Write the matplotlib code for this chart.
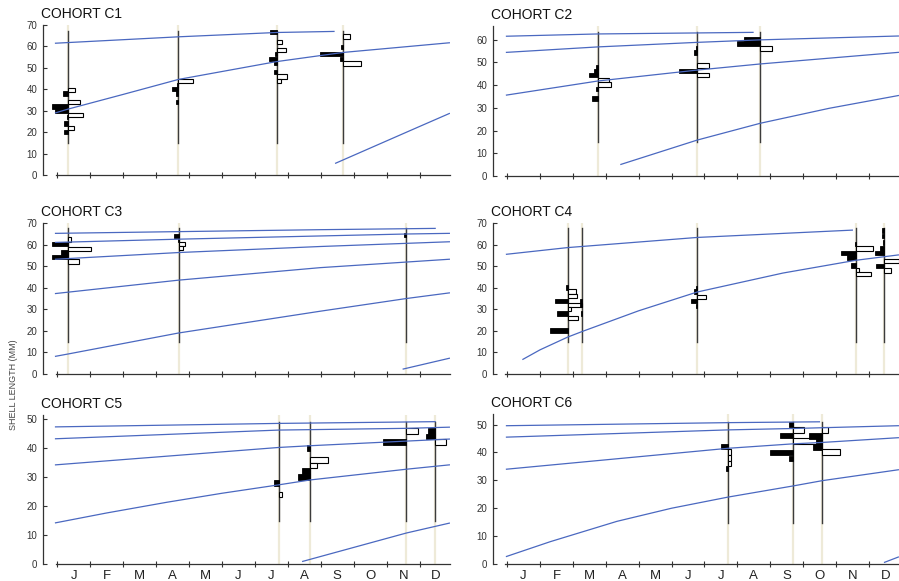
import matplotlib
matplotlib.use("Agg")
from matplotlib import pyplot as plt

plt.rcParams['font.family'] = ['Liberation Sans', 'DejaVu Sans']

MONTHS = ["J", "F", "M", "A", "M", "J", "J", "A", "S", "O", "N", "D"]

# ---- cohort C1 ----
c1_curve_x = [[-0.05, 3.7, 6.65, 8.4],
              [-0.05, 0.34, 2.0, 3.68, 6.65, 8.68, 11.9],
              [8.45, 9.4, 10.9, 11.9]]
c1_curve_y = [[61.5, 64.5, 66.5, 67.0],
              [29.0, 30.8, 37.6, 44.6, 52.9, 57.2, 61.7],
              [5.5, 11.9, 22.0, 28.7]]
c1_dates = [0.34, 3.68, 6.68, 8.67]
c1_black = [[(38, 5), (32, 16), (30, 13), (27, 1.5), (24, 4), (20, 4)],
            [(42, 1.5), (40, 6.7), (38, 2), (34, 2)],
            [(66.6, 7.7), (56.3, 2.7), (54.1, 8), (52.2, 3.7), (48.2, 3.3)],
            [(59.8, 1.5), (56.4, 22.7), (54.1, 3.3)]]
c1_white = [[(39.8, 7), (34, 11.7), (28, 15), (22, 5.7)],
            [(44, 15)],
            [(62.2, 5), (58.3, 9), (46, 9.7), (44, 4)],
            [(64.6, 7.3), (52, 18)]]

# ---- cohort C2 ----
c2_curve_x = [[-0.02, 2.76, 7.48],
              [-0.02, 2.76, 5.78, 7.7, 11.9],
              [-0.02, 2.76, 5.78, 7.7, 11.9],
              [3.46, 5.78, 7.7, 9.8, 11.9]]
c2_curve_y = [[61.5, 62.5, 63.2],
              [54.4, 56.8, 58.8, 59.9, 61.6],
              [35.6, 41.8, 46.6, 49.3, 54.4],
              [5.1, 15.8, 23.2, 29.8, 35.4]]
c2_dates = [2.76, 5.78, 7.7]
c2_black = [[(48, 1.5), (46, 3.7), (44.4, 9.3), (38.2, 1.5), (34.2, 6)],
            [(56.2, 1), (54.4, 3), (46.3, 18)],
            [(60.2, 16), (58.2, 23)]]
c2_white = [[(42.3, 10.7), (40.2, 13)],
            [(48.5, 12), (44.4, 12)],
            [(56.2, 12)]]

# ---- cohort C3 ----
c3_curve_x = [[-0.05, 3.68, 7.98, 11.47],
              [-0.05, 3.68, 10.6, 11.9],
              [-0.05, 3.68, 7.98, 11.9],
              [-0.05, 3.68, 7.98, 10.6, 11.9],
              [-0.05, 0.34, 3.68, 7.98, 10.6, 11.9],
              [10.5, 11.9]]
c3_curve_y = [[65.2, 66.0, 66.9, 67.5],
              [61.0, 62.5, 64.9, 65.2],
              [53.2, 56.3, 59.1, 61.3],
              [37.3, 43.5, 49.3, 51.9, 53.2],
              [8.2, 9.3, 19.0, 29.1, 35.0, 37.6],
              [2.3, 7.3]]
c3_dates = [0.34, 3.7, 10.6]
c3_black = [[(60.2, 16), (56.3, 7.7), (54.2, 16)],
            [(64, 5), (62, 1.5)],
            [(64.5, 2)]]
c3_white = [[(62.3, 2.7), (58.1, 22.7), (52.2, 11)],
            [(60.4, 6), (58.3, 4)],
            []]

# ---- cohort C4 ----
c4_curve_x = [[-0.02, 1.84, 5.78, 10.5],
              [0.48, 1.0, 1.84, 2.3, 4.0, 5.78, 8.39, 10.6, 11.9]]
c4_curve_y = [[55.5, 58.6, 63.3, 66.7],
              [6.8, 11.2, 17.1, 19.8, 29.3, 38.0, 46.8, 52.7, 55.2]]
c4_dates = [1.84, 2.29, 5.78, 10.6, 11.46]
c4_black = [[(40.1, 1.7), (34, 12.3), (28.1, 10.7), (20.1, 17.3)],
            [(34, 2.3), (32, 2.3), (28, 1)],
            [(40, 1), (38.2, 3), (33.7, 6), (31.5, 1)],
            [(60.4, 1), (56.2, 15), (54, 8.7), (50.3, 4.3)],
            [(66.5, 2), (64, 1.5), (61, 1), (58.2, 4.3), (56, 9.3), (50, 7.7)]]
c4_white = [[(38.2, 8.3), (36.3, 9.3), (32, 14.3), (30.1, 3.7), (26, 10)],
            [],
            [(35.8, 9)],
            [(58.2, 17), (48.2, 3.3), (46.2, 15.7)],
            [(52.4, 15), (48, 7.3)]]

# ---- cohort C5 ----
c5_curve_x = [[-0.05, 6.72, 11.47],
              [-0.05, 6.72, 10.6, 11.9],
              [-0.05, 6.72, 7.68, 10.6, 11.9],
              [-0.05, 1.5, 3.33, 5.0, 6.72, 7.68, 10.6, 11.9],
              [7.45, 10.6, 11.9]]
c5_curve_y = [[47.3, 48.5, 49.1],
              [43.2, 46.2, 46.8, 47.2],
              [34.2, 40.2, 40.8, 42.4, 43.1],
              [14.2, 17.6, 21.3, 24.4, 27.3, 29.0, 32.7, 34.2],
              [0.9, 10.7, 14.1]]
c5_dates = [6.72, 7.68, 10.6, 11.45]
c5_black = [[(28, 4.3)],
            [(40, 3.3), (32, 8.3), (30, 12.3)],
            [(42, 23)],
            [(46, 6.7), (44, 8.3)]]
c5_white = [[(24, 3.3)],
            [(36, 17.7), (34, 6.7)],
            [(46, 11.3)],
            [(42, 11.7)]]

# ---- cohort C6 ----
c6_curve_x = [[-0.02, 6.72, 9.5],
              [-0.02, 6.72, 8.7, 11.9],
              [-0.02, 6.72, 8.7, 9.59, 11.9],
              [-0.02, 1.31, 3.34, 5.0, 6.72, 8.7, 9.59, 11.9],
              [11.48, 11.9]]
c6_curve_y = [[49.6, 50.7, 51.0],
              [45.5, 48.1, 48.6, 49.6],
              [34.0, 41.5, 43.1, 43.6, 45.3],
              [2.7, 8.0, 15.3, 20.0, 24.0, 28.0, 29.9, 33.8],
              [0.6, 2.5]]
c6_dates = [6.72, 8.7, 9.59]
c6_black = [[(42.2, 6.7), (34.2, 1.7)],
            [(50, 4), (46.1, 12.7), (40, 22.7), (37.9, 4)],
            [(46, 13.3), (44, 6), (42, 9.3)]]
c6_white = [[(40.1, 2.7), (38.1, 3.3), (36.1, 2.7)],
            [(48.1, 10.7), (44.1, 25)],
            [(48.1, 5.7), (40.1, 18)]]

W, H = 899, 581
HIST_SCALE = 1 / 32.95   # bar length units -> months
BLUE = '#4a68c0'


def draw_panel(rect, title, cx, cy, dates, black, white, ylim, yticks, line_top, months):
    left, top, right, bottom = rect
    ax = fig.add_axes([left / W, 1 - bottom / H, (right - left) / W, (bottom - top) / H])
    ax.set_xlim(-0.43, 11.92)
    ax.set_ylim(*ylim)

    for d in dates:
        ax.plot([d, d], [0, ylim[1]], color='#eeead8', lw=1.6, zorder=1)
        ax.plot([d, d], [14.8, line_top], color='#3c3c3c', lw=1.0, zorder=2)

    for d, bl, wh in zip(dates, black, white):
        for y, w in bl:
            ax.barh(y, -w * HIST_SCALE, left=d, height=2, color='black',
                    edgecolor='black', lw=0.6, zorder=3)
        for y, w in wh:
            ax.barh(y, w * HIST_SCALE, left=d, height=2, color='white',
                    edgecolor='black', lw=0.8, zorder=3)

    for xs, ys in zip(cx, cy):
        ax.plot(xs, ys, color=BLUE, lw=0.9, zorder=4)

    for s in ['top', 'right']:
        ax.spines[s].set_visible(False)
    for s in ['left', 'bottom']:
        ax.spines[s].set_color('#333333')
        ax.spines[s].set_linewidth(0.9)
    ax.spines['bottom'].set_bounds(-0.05, 11.92)

    ax.set_yticks(yticks)
    ax.set_yticklabels([str(t) for t in yticks])
    ax.tick_params(axis='y', direction='in', length=3, width=0.8, colors='#333333',
                   labelsize=7, pad=4)
    ax.set_xticks(range(12))
    ax.set_xticklabels([])
    ax.tick_params(axis='x', which='major', direction='inout', length=5, width=0.8,
                   colors='#333333')
    if months:
        ax.set_xticks([i + 0.5 for i in range(12)], minor=True)
        ax.set_xticklabels(MONTHS, minor=True, fontsize=9.5, color='#222222')
        ax.tick_params(axis='x', which='minor', length=0, pad=4)

    fig.text((left - 2) / W, 1 - (top - 11) / H, title, fontsize=10,
             ha='left', va='center', color='#111111')
    return ax


fig = plt.figure(figsize=(W / 100, H / 100), dpi=100)

draw_panel((43, 25, 450, 175), "COHORT C1", c1_curve_x, c1_curve_y, c1_dates,
           c1_black, c1_white, (0, 70), range(0, 71, 10), 67.3, False)
draw_panel((493, 26, 899, 176), "COHORT C2", c2_curve_x, c2_curve_y, c2_dates,
           c2_black, c2_white, (0, 66), range(0, 61, 10), 63.4, False)
draw_panel((43, 223, 450, 374), "COHORT C3", c3_curve_x, c3_curve_y, c3_dates,
           c3_black, c3_white, (0, 70), range(0, 71, 10), 67.5, False)
draw_panel((493, 223, 899, 374), "COHORT C4", c4_curve_x, c4_curve_y, c4_dates,
           c4_black, c4_white, (0, 70), range(0, 71, 10), 67.5, False)
draw_panel((43, 415, 450, 564), "COHORT C5", c5_curve_x, c5_curve_y, c5_dates,
           c5_black, c5_white, (0, 51.4), range(0, 51, 10), 49.1, True)
draw_panel((493, 414, 899, 564), "COHORT C6", c6_curve_x, c6_curve_y, c6_dates,
           c6_black, c6_white, (0, 53.8), range(0, 51, 10), 51.1, True)

fig.text(14 / W, 1 - 385 / H, "SHELL LENGTH (MM)", rotation=90, fontsize=6.5,
         color='#444444', ha='center', va='center')

fig.savefig("out.png", dpi=100)
